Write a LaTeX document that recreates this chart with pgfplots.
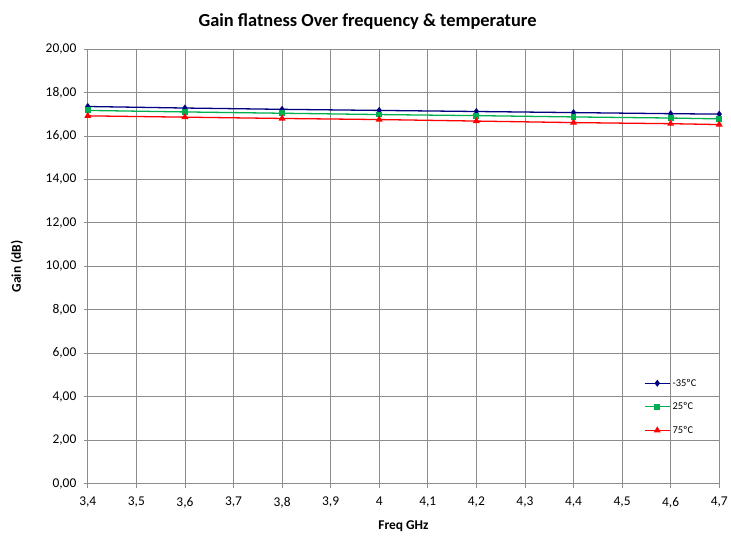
\documentclass[border=0pt]{standalone}
\usepackage{fontspec}
\setmainfont{Carlito}
\usepackage{pgfplots}
\pgfplotsset{compat=1.18}
\definecolor{cblue}{HTML}{000080}
\definecolor{cgreen}{HTML}{00B050}
\definecolor{cred}{HTML}{FF0000}
\definecolor{gridc}{HTML}{8C8C8C}

\begin{document}
\begin{tikzpicture}
    \begin{axis}[
        name=ax,
        scale only axis,
        width=633bp, height=436bp,
        xmin=3.4, xmax=4.7,
        ymin=0, ymax=20,
        xtick={3.4,3.5,...,4.71},
        ytick={0,2,...,20},
        grid=major,
        major grid style={gridc, line width=0.7pt},
        axis line style={gridc, line width=0.7pt},
        axis x line*=bottom, axis y line*=left,
        tick align=outside,
        major tick length=4bp,
        tick style={gridc, line width=0.7pt},
        /pgf/number format/assume math mode=true,
        xticklabel style={yshift=-6bp, /pgf/number format/.cd, use comma, fixed, precision=1},
        yticklabel style={xshift=-4bp, /pgf/number format/.cd, use comma, fixed, fixed zerofill, precision=2},
        ticklabel style={font=\fontsize{13.5}{15}\selectfont},
        xlabel={Freq GHz},
        ylabel={Gain (dB)},
        label style={font=\fontsize{13.5}{15}\selectfont\bfseries},
        xlabel style={yshift=-6bp},
        ylabel style={yshift=16bp},
        title={Gain flatness Over frequency \& temperature},
        title style={font=\fontsize{18.5}{21}\selectfont\bfseries, yshift=10bp, xshift=-36bp},
        legend style={draw=none, fill=none, at={(0.972,0.177)}, anchor=east,
            font=\fontsize{10.5}{12}\selectfont, row sep=11bp},
        legend cell align=left,
        legend image code/.code={
            \draw[mark repeat=2, mark phase=2, #1] plot coordinates {(0cm,0cm) (0.45cm,0cm) (0.9cm,0cm)};
        },
    ]
    \addplot[color=cblue, line width=1.3pt, mark=diamond*, mark size=2.5pt] coordinates {
        (3.4,17.35) (3.6,17.28) (3.8,17.22) (4.0,17.17) (4.2,17.12) (4.4,17.07) (4.6,17.02) (4.7,17.00)};
    \addplot[color=cgreen, line width=1.3pt, mark=square*, mark size=2.3pt] coordinates {
        (3.4,17.17) (3.6,17.10) (3.8,17.04) (4.0,16.98) (4.2,16.93) (4.4,16.87) (4.6,16.82) (4.7,16.78)};
    \addplot[color=cred, line width=1.3pt, mark=triangle*, mark size=2.8pt] coordinates {
        (3.4,16.92) (3.6,16.86) (3.8,16.80) (4.0,16.75) (4.2,16.68) (4.4,16.61) (4.6,16.56) (4.7,16.52)};
    \legend{-35ºC, 25ºC, 75ºC}
    \end{axis}
    \path ([shift={(-88bp,-53bp)}]ax.south west) rectangle ([shift={(10bp,49bp)}]ax.north east);
\end{tikzpicture}
\end{document}
